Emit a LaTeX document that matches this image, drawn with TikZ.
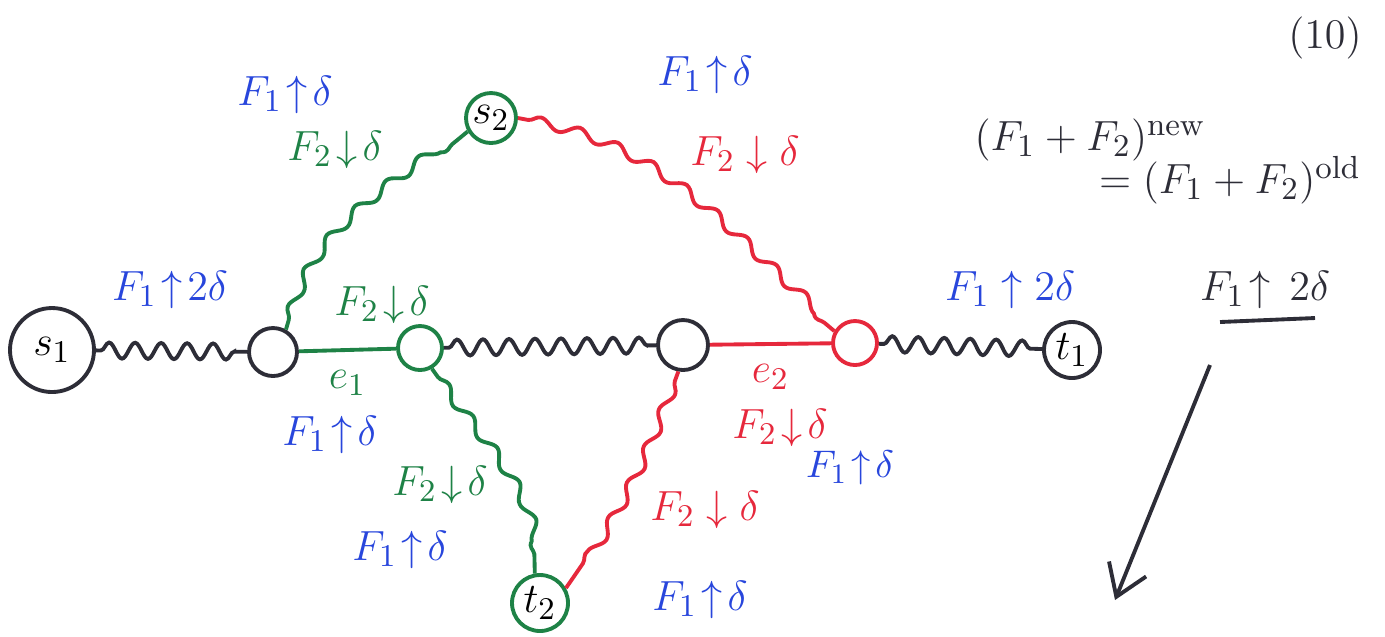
\documentclass[tikz,border=0pt]{standalone}
\usepackage{amsmath}
\usepackage{amssymb}
\usetikzlibrary{arrows.meta,decorations.pathmorphing,positioning}
\definecolor{pen}{RGB}{45,45,55}
\definecolor{pgreen}{RGB}{30,130,70}
\definecolor{pred}{RGB}{230,40,60}
\definecolor{pblue}{RGB}{40,70,220}

\begin{document}
\begin{tikzpicture}[x=0.1mm, y=-0.1mm, line width=1.1pt,
  every node/.style={font=\fontsize{13}{15}\selectfont},
  vtx/.style={draw=pen, circle, inner sep=0pt, minimum size=#1},
  wig/.style={decorate, decoration={snake, segment length=2.6mm, amplitude=0.8mm, pre length=0.5mm, post length=0.5mm}},
  slowwig/.style={decorate, decoration={snake, segment length=4mm, amplitude=0.5mm, pre length=1mm, post length=1mm}},
  blab/.style={text=pblue}, glab/.style={text=pgreen}, rlab/.style={text=pred}]
\useasboundingbox (0,0) rectangle (1385,636);
% vertices
\node[vtx=8.4mm] (s1) at (52,350) {$s_1$};
\node[vtx=4.8mm] (p1) at (273,352) {};
\node[vtx=5mm, draw=pgreen] (s2) at (491,118) {$s_2$};
\node[vtx=4.4mm, draw=pgreen] (p2) at (420,348) {};
\node[vtx=5mm] (p3) at (683,345) {};
\node[vtx=4.4mm, draw=pred] (p4) at (855,343) {};
\node[vtx=5.6mm] (t1) at (1072,350) {$t_1$};
\node[vtx=5.6mm, draw=pgreen] (t2) at (540,603) {$t_2$};
% edges
\draw[pen, wig] (s1) -- (p1);
\draw[pgreen] (p1) -- node[below=2pt, glab] (e1) {$e_1$} (p2);
\draw[pen, wig] (p2) -- (p3);
\draw[pred] (p3) -- node[below=2pt, rlab] (e2) {$e_2$} (p4);
\draw[pen, wig] (p4) -- (t1);
\draw[pgreen, slowwig] (p1.60) to[out=75, in=220] (s2.210);
\draw[pred, slowwig] (s2.east) to[out=-10, in=140] (p4.150);
\draw[pgreen, slowwig] (p2.-60) to[out=-55, in=90] (t2.100);
\draw[pred, slowwig] (p3.-100) to[out=-110, in=55] (t2.30);
% flow labels
\node[blab] (l1) at (285,95) {$F_1\!\uparrow\!\delta$};
\node[glab] (l2) at (335,150) {$F_2\!\downarrow\!\delta$};
\node[blab] (l3) at (705,75) {$F_1\!\uparrow\!\delta$};
\node[rlab] (l4) at (745,155) {$F_2\downarrow\delta$};
\node[blab] (l5) at (170,290) {$F_1\!\uparrow\!2\delta$};
\node[glab] (l6) at (382,305) {$F_2\!\downarrow\!\delta$};
\node[blab] (l7) at (1010,290) {$F_1\uparrow2\delta$};
\node[blab] (l8) at (330,435) {$F_1\!\uparrow\!\delta$};
\node[glab] (l9) at (440,485) {$F_2\!\downarrow\!\delta$};
\node[blab] (l10) at (400,550) {$F_1\!\uparrow\!\delta$};
\node[rlab] (l11) at (780,428) {$F_2\!\downarrow\!\delta$};
\node[blab, font=\fontsize{11}{13}\selectfont] (l12) at (850,468) {$F_1\!\uparrow\!\delta$};
\node[rlab] (l13) at (705,510) {$F_2\downarrow\delta$};
\node[blab] (l14) at (700,600) {$F_1\!\uparrow\!\delta$};
% notes on the right
\node[text=pen] (pg) at (1325,38) {$(10)$};
\node[text=pen] (sum1) at (1090,140) {$(F_1+F_2)^{\text{new}}$};
\node[text=pen] (sum2) at (1230,180) {$=(F_1+F_2)^{\text{old}}$};
\node[text=pen] (inc) at (1265,290) {$F_1\!\uparrow\,2\delta$};
\coordinate (ul1) at (1220,322);
\coordinate (ul2) at (1315,318);
\draw[pen] (ul1) -- (ul2);
\coordinate (ar1) at (1210,365);
\coordinate (ar2) at (1115,600);
\draw[pen, -{Straight Barb[length=3mm, width=4mm]}] (ar1) -- (ar2);
\end{tikzpicture}
\end{document}
